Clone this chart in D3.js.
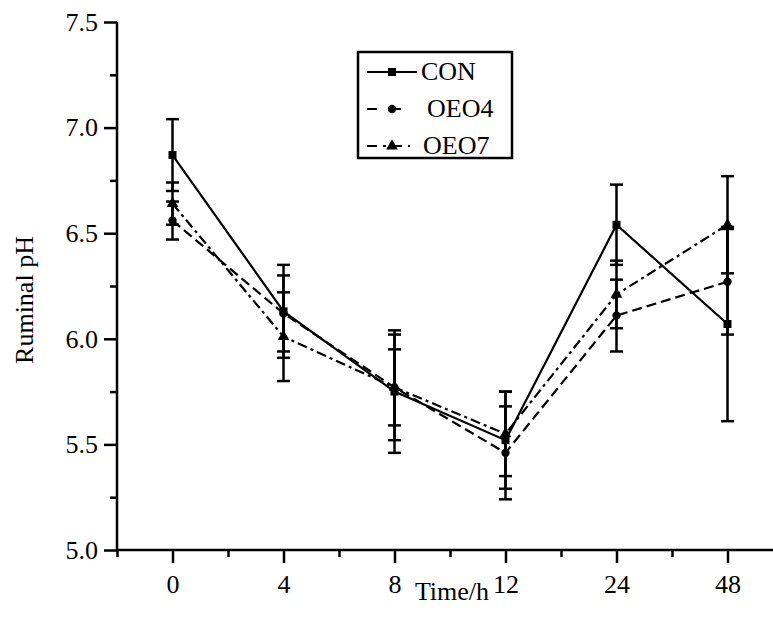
<!DOCTYPE html>
<html>
<head>
<meta charset="utf-8">
<script src="https://cdn.jsdelivr.net/npm/d3@7"></script>
<style>
  body { margin: 0; background: #fff; }
  svg, svg text { font-family: "Liberation Serif", "DejaVu Serif", "Times New Roman", serif !important; fill: #000; }
</style>
</head>
<body>
<div class="vis"></div>
<script>
// time points (categorical x axis)
const times = ["0", "4", "8", "12", "24", "48"];

// ruminal pH means and error bar half-widths
const conMean = [6.87, 6.13, 5.75, 5.52, 6.54, 6.07];
const conErr  = [0.17, 0.22, 0.29, 0.23, 0.19, 0.46];
const oeo4Mean = [6.56, 6.12, 5.77, 5.46, 6.11, 6.27];
const oeo4Err  = [0.09, 0.18, 0.25, 0.22, 0.17, 0.25];
const oeo7Mean = [6.64, 6.01, 5.77, 5.55, 6.21, 6.54];
const oeo7Err  = [0.10, 0.21, 0.18, 0.20, 0.16, 0.23];

const yTicks = [5.0, 5.5, 6.0, 6.5, 7.0, 7.5];

const series = [
    { name: "CON", mean: conMean, err: conErr, dash: null, legDash: null, marker: d3.symbolSquare, size: 64 },
    { name: "OEO4", mean: oeo4Mean, err: oeo4Err, dash: "10,5", legDash: "10,14", marker: d3.symbolCircle, size: 55 },
    { name: "OEO7", mean: oeo7Mean, err: oeo7Err, dash: "10,4,3,4", legDash: "10,6,3,6", marker: d3.symbolTriangle, size: 60 }
];

const W = 773, H = 619;
const mLeft = 117, mBottom = 550, mTop = 22;
const FONT = "26px";

const svg = d3.select(".vis").append("svg")
    .attr("width", W).attr("height", H)
    .attr("font-family", "Liberation Serif, DejaVu Serif, serif");

const xscale = d3.scaleLinear().domain([-0.5, 5.5]).range([mLeft, mLeft + 666]);
const yscale = d3.scaleLinear().domain([5.0, 7.5]).range([mBottom, mTop]);

// axes
const xAxis = svg.append("g")
    .attr("transform", `translate(0, ${mBottom})`)
    .call(d3.axisBottom(xscale).tickValues(d3.range(0, 6)).tickFormat(i => times[i]).tickSize(13).tickPadding(12));
const xMinor = svg.append("g")
    .attr("transform", `translate(0, ${mBottom})`)
    .call(d3.axisBottom(xscale).tickValues(d3.range(-0.5, 6, 1)).tickFormat("").tickSize(7));

const yAxis = svg.append("g")
    .attr("transform", `translate(${mLeft}, 0)`)
    .call(d3.axisLeft(yscale).tickValues(yTicks).tickFormat(d3.format(".1f")).tickSize(13).tickPadding(6));
const yMinor = svg.append("g")
    .attr("transform", `translate(${mLeft}, 0)`)
    .call(d3.axisLeft(yscale).tickValues([5.25, 5.75, 6.25, 6.75, 7.25]).tickFormat("").tickSize(7));

[xAxis, xMinor, yAxis, yMinor].forEach(g => {
    g.attr("font-family", null).attr("font-size", null);
    g.selectAll("path.domain").attr("stroke", "#000").attr("stroke-width", 2.5);
    g.selectAll(".tick line").attr("stroke", "#000").attr("stroke-width", 2.5);
    g.selectAll("text").style("font-size", FONT).attr("fill", "#000");
});
xMinor.select("path.domain").remove();
yMinor.select("path.domain").remove();
xAxis.select("path.domain").attr("d", `M${mLeft},0H${W}`);
yAxis.select("path.domain").attr("d", `M0,${mBottom}V${mTop}`);

svg.append("text")
    .attr("x", 452).attr("y", 600)
    .attr("text-anchor", "middle")
    .style("font-size", FONT)
    .text("Time/h");

svg.append("text")
    .attr("transform", `translate(33, 300) rotate(-90)`)
    .attr("text-anchor", "middle")
    .style("font-size", FONT)
    .text("Ruminal pH");

const plot = svg.append("g");

const line = d3.line().x((d, i) => xscale(i)).y(d => yscale(d));

series.forEach(s => {
    // error bars
    const eb = plot.append("g").attr("stroke", "#000").attr("stroke-width", 2.5);
    s.mean.forEach((m, i) => {
        const x = xscale(i), y1 = yscale(m + s.err[i]), y0 = yscale(m - s.err[i]);
        eb.append("line").attr("x1", x).attr("x2", x).attr("y1", y1).attr("y2", y0);
        eb.append("line").attr("x1", x - 6.5).attr("x2", x + 6.5).attr("y1", y1).attr("y2", y1);
        eb.append("line").attr("x1", x - 6.5).attr("x2", x + 6.5).attr("y1", y0).attr("y2", y0);
    });
});

series.forEach(s => {
    plot.append("path")
        .datum(s.mean)
        .attr("d", line)
        .attr("fill", "none")
        .attr("stroke", "#000")
        .attr("stroke-width", 2.2)
        .attr("stroke-dasharray", s.dash);
    plot.selectAll(null)
        .data(s.mean)
        .enter().append("path")
        .attr("transform", (d, i) => `translate(${xscale(i)}, ${yscale(d)})`)
        .attr("d", d3.symbol().type(s.marker).size(s.size))
        .attr("fill", "#000");
});

// legend
const lg = svg.append("g");
lg.append("rect")
    .attr("x", 358).attr("y", 52).attr("width", 154).attr("height", 106)
    .attr("fill", "#fff").attr("stroke", "#000").attr("stroke-width", 2.5);
const legY = [72, 109, 146];
const legTextX = [421, 427, 423];
series.forEach((s, i) => {
    const y = legY[i];
    lg.append("line")
        .attr("x1", 367).attr("x2", i === 0 ? 417 : 410).attr("y1", y).attr("y2", y)
        .attr("stroke", "#000").attr("stroke-width", 2.2)
        .attr("stroke-dasharray", s.legDash);
    lg.append("path")
        .attr("transform", `translate(392, ${y})`)
        .attr("d", d3.symbol().type(s.marker).size(s.size))
        .attr("fill", "#000");
    lg.append("text")
        .attr("x", legTextX[i]).attr("y", y + 8)
        .style("font-size", FONT)
        .text(s.name);
});
</script>
</body>
</html>
